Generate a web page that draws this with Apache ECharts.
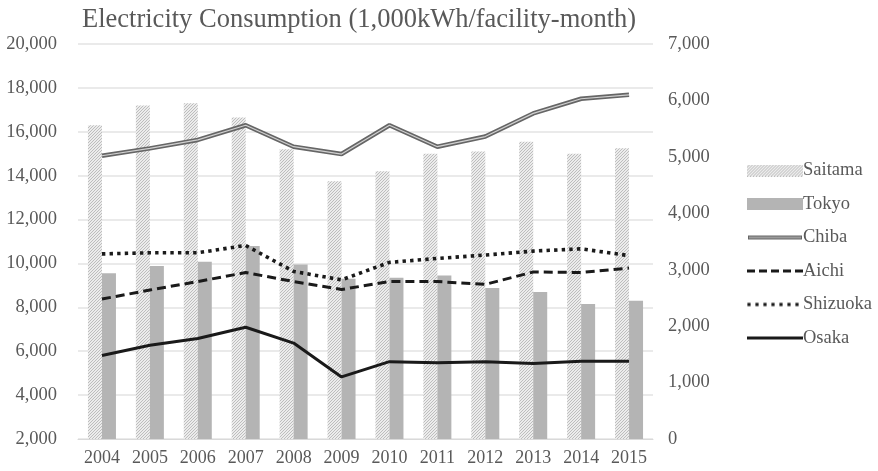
<!DOCTYPE html>
<html>
<head>
<meta charset="utf-8">
<script src="https://cdn.jsdelivr.net/npm/echarts@6/dist/echarts.min.js"></script>
<style>
  html, body { margin: 0; padding: 0; background: #fff; }
  #chart { width: 878px; height: 471px; }
</style>
</head>
<body>
<div id="chart"></div>
<script>
var years = ['2004', '2005', '2006', '2007', '2008', '2009', '2010', '2011', '2012', '2013', '2014', '2015'];
// bars, left axis
var saitama = [16300, 17200, 17300, 16650, 15200, 13750, 14200, 15000, 15100, 15550, 15000, 15250];
var tokyo = [9550, 9880, 10080, 10800, 9950, 9300, 9350, 9450, 8880, 8700, 8150, 8300];
// lines, right axis
var chiba = [5020, 5150, 5300, 5560, 5180, 5050, 5560, 5180, 5360, 5770, 6030, 6100];
var aichi = [2480, 2640, 2790, 2950, 2790, 2650, 2790, 2790, 2740, 2960, 2950, 3030];
var shizuoka = [3280, 3300, 3300, 3430, 2970, 2820, 3130, 3200, 3260, 3330, 3370, 3250];
var osaka = [1480, 1660, 1780, 1980, 1700, 1100, 1370, 1350, 1370, 1340, 1380, 1380];

var font = 'Liberation Serif';
var textGray = '#595959';

// diagonal hatch used by Saitama
function hatchCanvas(w, h) {
  var c = document.createElement('canvas');
  c.width = w; c.height = h;
  var g = c.getContext('2d');
  g.fillStyle = '#ececec';
  g.fillRect(0, 0, w, h);
  g.strokeStyle = '#bdbdbd';
  g.lineWidth = 1;
  for (var k = -h; k < w + h; k += 3) {
    g.beginPath();
    g.moveTo(k, h);
    g.lineTo(k + h, 0);
    g.stroke();
  }
  return c;
}

function iconLine(draw) {
  var c = document.createElement('canvas');
  c.width = 56; c.height = 12;
  var g = c.getContext('2d');
  draw(g);
  return 'image://' + c.toDataURL();
}

var icons = {
  Saitama: 'image://' + hatchCanvas(56, 12).toDataURL(),
  Tokyo: iconLine(function (g) { g.fillStyle = '#b4b4b4'; g.fillRect(0, 0, 56, 12); }),
  Chiba: iconLine(function (g) {
    g.strokeStyle = '#666'; g.lineWidth = 4; g.beginPath(); g.moveTo(1, 6); g.lineTo(55, 6); g.stroke();
    g.strokeStyle = '#cfcfcf'; g.lineWidth = 1; g.beginPath(); g.moveTo(2, 6); g.lineTo(54, 6); g.stroke();
  }),
  Aichi: iconLine(function (g) {
    g.strokeStyle = '#1a1a1a'; g.lineWidth = 3; g.setLineDash([8, 4]); g.beginPath(); g.moveTo(0, 6); g.lineTo(56, 6); g.stroke();
  }),
  Shizuoka: iconLine(function (g) {
    g.fillStyle = '#1a1a1a';
    for (var x = 2; x < 56; x += 8) { g.fillRect(x - 1.6, 4.4, 3.2, 3.2); }
  }),
  Osaka: iconLine(function (g) {
    g.strokeStyle = '#1a1a1a'; g.lineWidth = 3; g.beginPath(); g.moveTo(0, 6); g.lineTo(56, 6); g.stroke();
  })
};

var names = ['Saitama', 'Tokyo', 'Chiba', 'Aichi', 'Shizuoka', 'Osaka'];

var chart = echarts.init(document.getElementById('chart'), null, { renderer: 'canvas' });

var option = {
  backgroundColor: '#fff',
  animation: false,
  title: {
    text: 'Electricity Consumption (1,000kWh/facility-month)',
    left: 77,
    top: 2,
    textStyle: { fontFamily: font, fontSize: 26.5, fontWeight: 'normal', color: textGray }
  },
  legend: {
    orient: 'vertical',
    left: 742,
    top: 156,
    itemWidth: 56,
    itemHeight: 12,
    itemGap: 14.5,
    data: names.map(function (n) { return { name: n, icon: icons[n] }; }),
    textStyle: { fontFamily: font, fontSize: 18.5, color: textGray, padding: [0, 0, 0, -5] }
  },
  grid: { left: 78, right: 225, top: 44, bottom: 32 },
  xAxis: {
    type: 'category',
    data: years,
    axisLine: { lineStyle: { color: '#d9d9d9' } },
    axisTick: { show: false },
    axisLabel: { interval: 0, fontFamily: font, fontSize: 18, color: textGray, margin: 10 }
  },
  yAxis: [
    {
      type: 'value', min: 2000, max: 20000, interval: 2000,
      axisLine: { show: false }, axisTick: { show: false },
      splitLine: { lineStyle: { color: '#e3e3e3', width: 1.5 } },
      axisLabel: {
        fontFamily: font, fontSize: 18.5, color: textGray, margin: 21,
        formatter: function (v) { return v.toLocaleString('en-US'); }
      }
    },
    {
      type: 'value', min: 0, max: 7000, interval: 1000,
      axisLine: { show: false }, axisTick: { show: false },
      splitLine: { show: false },
      axisLabel: {
        fontFamily: font, fontSize: 18.5, color: textGray, margin: 15,
        formatter: function (v) { return v.toLocaleString('en-US'); }
      }
    }
  ],
  series: [
    {
      name: 'Saitama', type: 'bar', data: saitama, barWidth: 14, barGap: '0%',
      itemStyle: { color: { image: hatchCanvas(12, 12), repeat: 'repeat' } }
    },
    {
      name: 'Tokyo', type: 'bar', data: tokyo, barWidth: 14,
      itemStyle: { color: '#b4b4b4' }
    },
    {
      name: 'Chiba', type: 'line', yAxisIndex: 1, data: chiba, symbol: 'none',
      lineStyle: { color: '#666', width: 4.5 }
    },
    {
      // light centre of the double line
      name: 'Chiba-inner', type: 'line', yAxisIndex: 1, data: chiba, symbol: 'none',
      lineStyle: { color: '#d0d0d0', width: 1.2 }, tooltip: { show: false }
    },
    {
      name: 'Aichi', type: 'line', yAxisIndex: 1, data: aichi, symbol: 'none',
      lineStyle: { color: '#1a1a1a', width: 3, type: [9, 5] }
    },
    {
      name: 'Shizuoka', type: 'line', yAxisIndex: 1, data: shizuoka, symbol: 'none',
      lineStyle: { color: '#1a1a1a', width: 3.6, type: [3.4, 4.2] }
    },
    {
      name: 'Osaka', type: 'line', yAxisIndex: 1, data: osaka, symbol: 'none',
      lineStyle: { color: '#1a1a1a', width: 3 }
    }
  ]
};

chart.setOption(option);
window.onresize = function () { chart.resize(); };
</script>
</body>
</html>
